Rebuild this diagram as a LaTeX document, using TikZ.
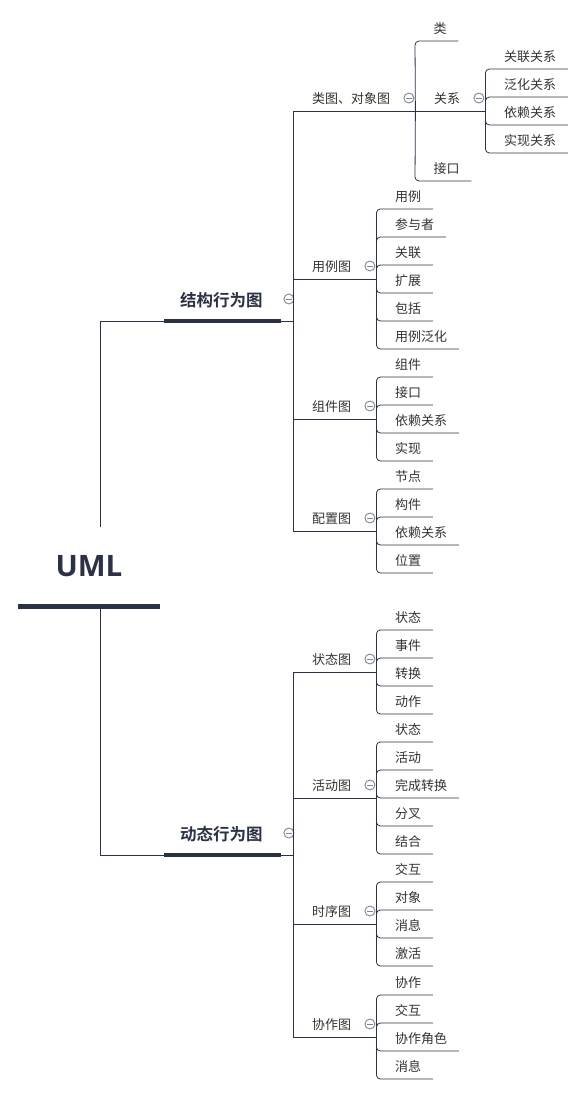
\documentclass[tikz,border=0pt]{standalone}
\usepackage{fontspec}
\setmainfont{Noto Sans CJK SC}[BoldFont={* Bold}]
\newfontfamily\umlfont{Open Sans}[BoldFont={* Bold}]
\usepackage{tikz}
\usetikzlibrary{positioning, calc}

\definecolor{ink}{HTML}{2B3245}
\definecolor{knobgray}{HTML}{7F8593}
\definecolor{textgray}{HTML}{333333}

\tikzset{
  tag/.style={anchor=south west, inner sep=0pt, text height=14pt, text depth=7pt, font=\fontsize{13}{15}\selectfont, text=textgray},
  leaf/.style={tag, execute at begin node={\kern18.5pt}, execute at end node={\kern11.5pt}},
  fold/.style={tag, execute at begin node={\kern19pt}, execute at end node={\kern25pt}},
  major/.style={anchor=south west, inner sep=0pt, text height=14pt, text depth=14.7pt, font=\bfseries\fontsize{16.5}{18}\selectfont, text=ink, execute at begin node={\kern16pt}, execute at end node={\kern18pt}},
  bar/.style={draw=ink, line width=4pt},
  branch/.style={draw=ink, line width=0.8pt},
  twig/.style={branch, rounded corners=4pt},
  knob/.style={circle, draw=knobgray, fill=white, line width=0.9pt, minimum size=10pt, inner sep=0pt,
    path picture={\draw[knobgray, line width=0.9pt] ([xshift=-2.6pt]path picture bounding box.center) -- ([xshift=2.6pt]path picture bounding box.center);}}
}

\begin{document}
\begin{tikzpicture}[x=1pt, y=-1pt]
\useasboundingbox (0,0) rectangle (583,1094);

% root
\node (uml) [anchor=south, inner sep=0pt, minimum width=142pt, text height=50pt, text depth=29pt, font=\umlfont\bfseries\fontsize{29.5}{32}\selectfont, text=ink] at (89,606) {UML};
\draw[line width=5pt, draw=ink] (uml.south west) -- (uml.south east);

% two main branches
\node (stat) [major] at (164,321) {结构行为图};
\node (dyn) [major] at (164,855) {动态行为图};
\draw[branch] ([xshift=11pt]uml.north) |- (stat.south west);
\draw[branch] ([xshift=11pt]uml.south) |- (dyn.south west);
\draw[bar] (stat.south west) -- (stat.south east);
\draw[bar] (dyn.south west) -- (dyn.south east);
\node (kstat) [knob] at ([xshift=8pt, yshift=22pt]stat.south east) {};
\node (kdyn) [knob] at ([xshift=8pt, yshift=22pt]dyn.south east) {};

% structural diagrams
\node (cls) [fold] at (293,111) {类图、对象图};
\node (uc) [fold] at (293,279) {用例图};
\node (cmp) [fold] at (293,419) {组件图};
\node (dep) [fold] at (293,531) {配置图};
\foreach \g in {cls, uc, cmp, dep} {
  \draw[branch] (stat.south east) -| (\g.south west) -- (\g.south east);
  \node (k\g) [knob] at ([xshift=-6.5pt, yshift=13pt]\g.south east) {};
}

% behavioural diagrams
\node (st) [fold] at (293,672) {状态图};
\node (act) [fold] at (293,798) {活动图};
\node (seq) [fold] at (293,924) {时序图};
\node (col) [fold] at (293,1037) {协作图};
\foreach \g in {st, act, seq, col} {
  \draw[branch] (dyn.south east) -| (\g.south west) -- (\g.south east);
  \node (k\g) [knob] at ([xshift=-6.5pt, yshift=13pt]\g.south east) {};
}

% class diagram
\node (cls1) [leaf] at (415,41) {类};
\node (rel) [fold] at (415,111) {关系};
\node (cls3) [leaf] at (415,181) {接口};
\draw[twig] (cls.south east) -- (cls1.south west) -- (cls1.south east);
\draw[twig] (cls.south east) -- (cls3.south west) -- (cls3.south east);
\draw[branch] (rel.south west) -- (rel.south east);
\node (krel) [knob] at ([xshift=-6.5pt, yshift=13pt]rel.south east) {};
\foreach \t [count=\i] in {关联关系, 泛化关系, 依赖关系, 实现关系} {
  \node (rel\i) [leaf] at ([yshift={70pt-28pt*\i}]rel.south east) {\t};
  \draw[twig] (rel.south east) -- (rel\i.south west) -- (rel\i.south east);
}

% leaves, 4 or 6 per group
\foreach \t [count=\i] in {用例, 参与者, 关联, 扩展, 包括, 用例泛化} {
  \node (uc\i) [leaf] at ([yshift={98pt-28pt*\i}]uc.south east) {\t};
  \draw[twig] (uc.south east) -- (uc\i.south west) -- (uc\i.south east);
}
\foreach \t [count=\i] in {组件, 接口, 依赖关系, 实现} {
  \node (cmp\i) [leaf] at ([yshift={70pt-28pt*\i}]cmp.south east) {\t};
  \draw[twig] (cmp.south east) -- (cmp\i.south west) -- (cmp\i.south east);
}
\foreach \t [count=\i] in {节点, 构件, 依赖关系, 位置} {
  \node (dep\i) [leaf] at ([yshift={70pt-28pt*\i}]dep.south east) {\t};
  \draw[twig] (dep.south east) -- (dep\i.south west) -- (dep\i.south east);
}
\foreach \t [count=\i] in {状态, 事件, 转换, 动作} {
  \node (st\i) [leaf] at ([yshift={70pt-28pt*\i}]st.south east) {\t};
  \draw[twig] (st.south east) -- (st\i.south west) -- (st\i.south east);
}
\foreach \t [count=\i] in {状态, 活动, 完成转换, 分叉, 结合} {
  \node (act\i) [leaf] at ([yshift={84pt-28pt*\i}]act.south east) {\t};
  \draw[twig] (act.south east) -- (act\i.south west) -- (act\i.south east);
}
\foreach \t [count=\i] in {交互, 对象, 消息, 激活} {
  \node (seq\i) [leaf] at ([yshift={70pt-28pt*\i}]seq.south east) {\t};
  \draw[twig] (seq.south east) -- (seq\i.south west) -- (seq\i.south east);
}
\foreach \t [count=\i] in {协作, 交互, 协作角色, 消息} {
  \node (col\i) [leaf] at ([yshift={70pt-28pt*\i}]col.south east) {\t};
  \draw[twig] (col.south east) -- (col\i.south west) -- (col\i.south east);
}
\end{tikzpicture}
\end{document}
